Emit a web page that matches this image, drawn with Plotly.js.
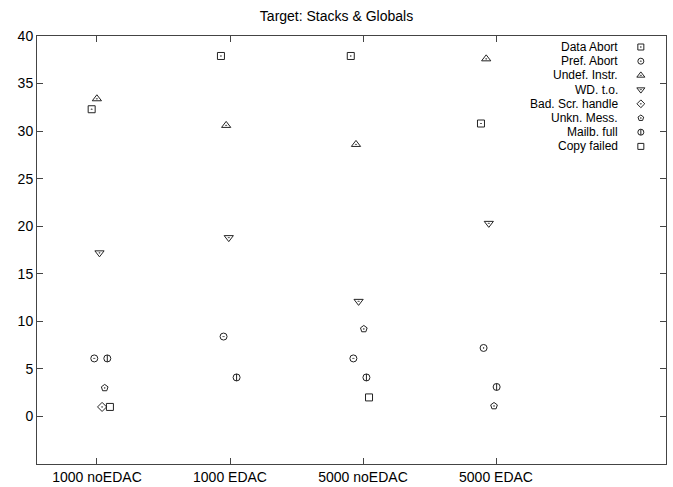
<!DOCTYPE html>
<html>
<head>
<meta charset="utf-8">
<script src="https://cdn.plot.ly/plotly-3.0.1.min.js"></script>
<style>html,body{margin:0;padding:0;background:#fff;}#chart{width:673px;height:487px;}</style>
</head>
<body>
<div id="chart"></div>
<script>
// ---- data ----
const categories = ['1000 noEDAC', '1000 EDAC', '5000 noEDAC', '5000 EDAC'];
const seriesNames = ['Data Abort', 'Pref. Abort', 'Undef. Instr.', 'WD. t.o.', 'Bad. Scr. handle', 'Unkn. Mess.', 'Mailb. full', 'Copy failed'];
const dataAbort  = [32.3, 37.9, 37.9, 30.8];
const prefAbort  = [6.1, 8.4, 6.1, 7.2];
const undefInstr = [33.4, 30.6, 28.6, 37.6];
const wdTimeout  = [17.2, 18.8, 12.1, 20.3];
const badScr     = [1.0, null, null, null];
const unknMess   = [3.0, null, 9.2, 1.1];
const mailbFull  = [6.1, 4.1, 4.1, 3.1];
const copyFailed = [1.0, null, 2.0, null];

// ---- styling ----
const seriesValues = [dataAbort, prefAbort, undefInstr, wdTimeout, badScr, unknMess, mailbFull, copyFailed];
const symbols = ['square-open-dot', 'circle-open-dot', 'triangle-up-open-dot', 'triangle-down-open-dot',
                 'diamond-open-dot', 'pentagon-open-dot', 'circle-open', 'square-open'];
const sizes = [7, 7, 8, 8, 7, 7, 7, 7];
const ink = '#222';
const catPos = categories.map((c, i) => i + 1);
const stepPerSeries = 0.0196;
const catShift = [-0.040, -0.068, -0.092, -0.113];

const traces = [];
seriesValues.forEach((vals, s) => {
  const xs = catPos.map((p, c) => p + catShift[c] + s * stepPerSeries);
  traces.push({
    type: 'scatter', mode: 'markers', name: seriesNames[s], x: xs, y: vals,
    showlegend: false, cliponaxis: false,
    marker: {symbol: symbols[s], size: sizes[s], color: ink, line: {color: ink, width: 1}}
  });
  if (s === 6) {
    traces.push({
      type: 'scatter', mode: 'markers', x: xs, y: vals, showlegend: false,
      marker: {symbol: 'line-ns-open', size: 5, color: ink, line: {color: ink, width: 1}}
    });
  }
});

// manual legend (text left of symbol, as in the reference)
const legX = 0.960, legTextX = 0.927;
const legTop = 417 / 428, legStep = 14.2 / 428;
const annotations = [];
seriesNames.forEach((n, s) => {
  const yy = legTop - s * legStep;
  traces.push({
    type: 'scatter', mode: 'markers', x: [legX], y: [yy], xaxis: 'x2', yaxis: 'y2',
    showlegend: false, hoverinfo: 'skip',
    marker: {symbol: symbols[s], size: sizes[s] - 1, color: ink, line: {color: ink, width: 1}}
  });
  if (s === 6) {
    traces.push({
      type: 'scatter', mode: 'markers', x: [legX], y: [yy], xaxis: 'x2', yaxis: 'y2',
      showlegend: false, hoverinfo: 'skip',
      marker: {symbol: 'line-ns-open', size: 4, color: ink, line: {color: ink, width: 1}}
    });
  }
  annotations.push({
    xref: 'paper', yref: 'paper', x: legTextX, y: yy, xanchor: 'right', yanchor: 'middle',
    text: n, showarrow: false, font: {size: 12, color: '#000'}
  });
});

const layout = {
  width: 673, height: 487,
  margin: {l: 37, r: 7, t: 36, b: 23},
  paper_bgcolor: '#fff', plot_bgcolor: '#fff',
  font: {family: 'Liberation Sans, Arial, sans-serif', size: 14, color: '#000'},
  title: {text: 'Target: Stacks & Globals', x: 0.5, xref: 'container', y: 0.967, yanchor: 'middle',
          font: {size: 14}},
  showlegend: false,
  xaxis: {
    range: [0.549, 5.278], tickmode: 'array', tickvals: catPos, ticktext: categories,
    ticks: 'inside', ticklen: 6, tickcolor: '#444', showgrid: false, zeroline: false,
    showline: true, linecolor: '#444', linewidth: 1, mirror: 'ticks'
  },
  yaxis: {
    range: [-5, 40], tickmode: 'array', tickvals: [0, 5, 10, 15, 20, 25, 30, 35, 40],
    ticks: 'inside', ticklen: 6, tickcolor: '#444', showgrid: false, zeroline: false,
    showline: true, linecolor: '#444', linewidth: 1, mirror: 'ticks'
  },
  xaxis2: {range: [0, 1], overlaying: 'x', anchor: 'y2', visible: false, fixedrange: true},
  yaxis2: {range: [0, 1], overlaying: 'y', anchor: 'x2', visible: false, fixedrange: true},
  annotations: annotations
};

Plotly.newPlot('chart', traces, layout, {staticPlot: true, displayModeBar: false});
</script>
</body>
</html>
